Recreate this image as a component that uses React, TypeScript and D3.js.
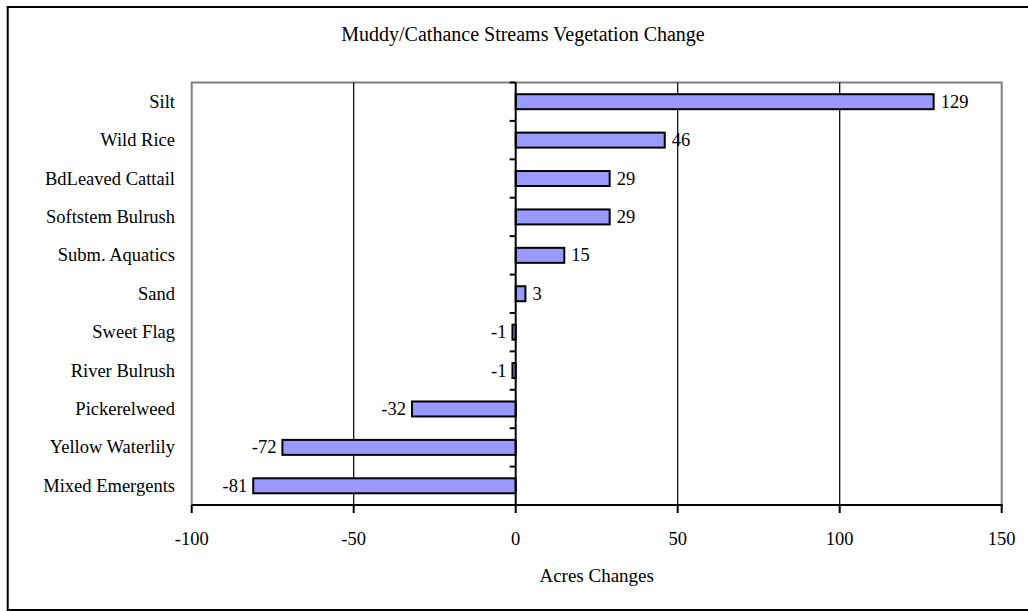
import React from "react";
import * as d3 from "d3";

const categories = [
  "Silt",
  "Wild Rice",
  "BdLeaved Cattail",
  "Softstem Bulrush",
  "Subm. Aquatics",
  "Sand",
  "Sweet Flag",
  "River Bulrush",
  "Pickerelweed",
  "Yellow Waterlily",
  "Mixed Emergents",
];
const values = [129, 46, 29, 29, 15, 3, -1, -1, -32, -72, -81];
const xTicks = [-100, -50, 0, 50, 100, 150];
const titleText = "Muddy/Cathance Streams Vegetation Change";
const xTitle = "Acres Changes";

const W = 1028;
const H = 611;
const plot = { left: 191.7, right: 1001.7, top: 82.5, bottom: 505 };
const FONT = "'Liberation Serif', 'Times New Roman', serif";
const FS = 18.5;

export default function App() {
  const x = d3.scaleLinear().domain([-100, 150]).range([plot.left, plot.right]);
  const y = d3
    .scaleBand<string>()
    .domain(categories)
    .range([plot.top, plot.bottom])
    .paddingInner(0)
    .paddingOuter(0);
  const bw = y.bandwidth();
  const barH = bw * 0.39;
  const x0 = x(0);

  return (
    <svg
      width={W}
      height={H}
      style={{ position: "absolute", left: 0, top: 0, background: "#fff" }}
      fontFamily={FONT}
    >
      <rect x={7.7} y={7} width={W + 20} height={603} fill="#fff" stroke="#000" strokeWidth={2} />
      <text x={523} y={34} textAnchor="middle" dominantBaseline="central" fontSize={20}>
        {titleText}
      </text>

      {/* plot border */}
      <rect
        x={plot.left}
        y={plot.top}
        width={plot.right - plot.left}
        height={plot.bottom - plot.top}
        fill="#fff"
        stroke="#808080"
        strokeWidth={2}
      />

      {/* gridlines */}
      {xTicks
        .filter((t) => t !== 0 && t !== -100 && t !== 150)
        .map((t) => (
          <line key={"g" + t} x1={x(t)} x2={x(t)} y1={plot.top} y2={plot.bottom} stroke="#000" strokeWidth={1.2} />
        ))}

      {/* bars */}
      {categories.map((c, i) => {
        const v = values[i];
        const cy = (y(c) as number) + bw / 2;
        const x1 = Math.min(x(v), x0);
        const w = Math.abs(x(v) - x0);
        return (
          <g key={c}>
            <rect x={x1} y={cy - barH / 2} width={w} height={barH} fill="#9999FF" stroke="#000" strokeWidth={2} />
            <text
              x={v >= 0 ? x(v) + 7 : x(v) - 6}
              y={cy}
              textAnchor={v >= 0 ? "start" : "end"}
              dominantBaseline="central"
              fontSize={FS}
            >
              {v}
            </text>
            <text x={175} y={cy} textAnchor="end" dominantBaseline="central" fontSize={FS}>
              {c}
            </text>
          </g>
        );
      })}

      {/* zero axis with category ticks */}
      <line x1={x0} x2={x0} y1={plot.top} y2={plot.bottom} stroke="#000" strokeWidth={2} />
      {categories.map((c) => {
        const yy = y(c) as number;
        return <line key={"ct" + c} x1={x0 - 6} x2={x0} y1={yy} y2={yy} stroke="#000" strokeWidth={2} />;
      })}

      {/* bottom axis */}
      <line x1={plot.left} x2={plot.right + 1} y1={plot.bottom} y2={plot.bottom} stroke="#000" strokeWidth={2} />
      {xTicks.map((t) => (
        <g key={"t" + t}>
          <line x1={x(t)} x2={x(t)} y1={plot.bottom} y2={plot.bottom + 8} stroke="#000" strokeWidth={2} />
          <text x={x(t)} y={539} textAnchor="middle" dominantBaseline="central" fontSize={FS}>
            {t}
          </text>
        </g>
      ))}
      <text x={(plot.left + plot.right) / 2} y={575} textAnchor="middle" dominantBaseline="central" fontSize={19}>
        {xTitle}
      </text>
    </svg>
  );
}
